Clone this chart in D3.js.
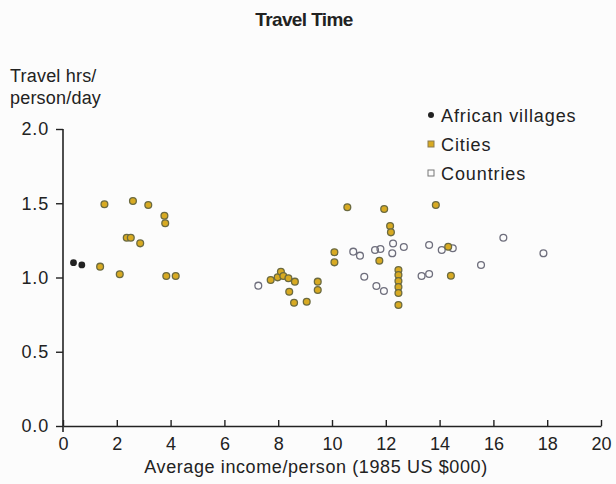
<!DOCTYPE html>
<html>
<head>
<meta charset="utf-8">
<script src="https://cdn.jsdelivr.net/npm/d3@7"></script>
<style>
  body { margin: 0; background: #fcfcfc; }
  text { font-family: "Liberation Sans", Arial, sans-serif; fill: #222; }
</style>
</head>
<body>
<script>
// data: income ($000) and travel hrs/person/day
var villageIncome = [0.39, 0.70]
var villageHours  = [1.10, 1.085]

var cityIncome = [1.38, 1.54, 2.11, 2.60, 2.37, 2.52, 2.87, 3.17, 3.77, 3.80, 3.84, 4.19,
                  7.72, 7.98, 8.10, 8.19, 8.38, 8.62, 8.41, 8.59, 9.06, 9.47, 9.47,
                  10.09, 10.09, 10.57, 11.94, 12.16, 12.19, 11.76,
                  12.47, 12.47, 12.47, 12.47, 12.47, 12.47, 14.32, 14.42, 13.86]
var cityHours  = [1.073, 1.493, 1.022, 1.515, 1.268, 1.268, 1.23, 1.488, 1.416, 1.365, 1.01, 1.01,
                  0.983, 1.001, 1.039, 1.01, 0.995, 0.972, 0.904, 0.83, 0.837, 0.972, 0.916,
                  1.17, 1.102, 1.473, 1.461, 1.347, 1.304, 1.113,
                  1.05, 1.017, 0.976, 0.936, 0.896, 0.815, 1.207, 1.012, 1.488]

var countryIncome = [7.26, 10.79, 11.04, 11.20, 11.60, 11.80, 11.65, 11.93, 12.27, 12.24, 12.67,
                     13.33, 13.61, 13.61, 14.08, 14.49, 15.54, 16.37, 17.86]
var countryHours  = [0.945, 1.174, 1.147, 1.005, 1.185, 1.192, 0.943, 0.909, 1.229, 1.163, 1.205,
                     1.01, 1.024, 1.219, 1.185, 1.197, 1.084, 1.268, 1.163]

var xTicks = [0, 2, 4, 6, 8, 10, 12, 14, 16, 18, 20]
var yTicks = [0, 0.5, 1.0, 1.5, 2.0]
var legendNames = ["African villages", "Cities", "Countries"]

// pairs for drawing
function zipUp(xs, ys){
  var out = []
  for (var i = 0; i < xs.length; i++) out.push({x: xs[i], y: ys[i]})
  return out
}
var villages = zipUp(villageIncome, villageHours)
var cities = zipUp(cityIncome, cityHours)
var countries = zipUp(countryIncome, countryHours)

var W = 616, H = 484
// plot box edges in px ("top" is taken by window.top, so prefixed)
var plotLeft = 63, plotRight = 601, plotTop = 129, plotBottom = 426
var dotR = 3.4

var svg = d3.select("body").append("svg")
  .attr("width", W).attr("height", H)

var xScale = d3.scaleLinear().domain([0, 20]).range([plotLeft, plotRight])
var yScale = d3.scaleLinear().domain([0, 2]).range([plotBottom, plotTop])

// title + axis labels
svg.append("text")
  .attr("x", 304).attr("y", 26)
  .attr("text-anchor", "middle")
  .style("font-size", "19px").style("font-weight", "bold").style("letter-spacing", "-0.6px")
  .text("Travel Time")

svg.append("text").attr("x", 10).attr("y", 82)
  .style("font-size", "18px").style("letter-spacing", "0.2px").text("Travel hrs/")
svg.append("text").attr("x", 10).attr("y", 104)
  .style("font-size", "18px").style("letter-spacing", "0.2px").text("person/day")

svg.append("text")
  .attr("x", 316).attr("y", 473)
  .attr("text-anchor", "middle")
  .style("font-size", "18px").style("letter-spacing", "0.6px")
  .text("Average income/person (1985 US $000)")

// y axis
var yAxis = svg.append("g")
  .attr("transform", "translate(" + plotLeft + ",0)")
  .call(d3.axisLeft(yScale).tickValues(yTicks).tickFormat(d3.format(".1f"))
        .tickSize(7).tickSizeOuter(0).tickPadding(7))
yAxis.select(".domain").remove()
yAxis.selectAll("text").style("font-size", "18px").style("letter-spacing", "0.8px").attr("fill", "#222")
yAxis.selectAll("line").attr("stroke", "#222").attr("stroke-width", 1.4)

svg.append("line")
  .attr("x1", plotLeft).attr("x2", plotLeft)
  .attr("y1", yScale(2)).attr("y2", plotBottom + 6)
  .attr("stroke", "#222").attr("stroke-width", 1.6)

// x axis, ticks pointing up
var xAxis = svg.append("g")
  .attr("transform", "translate(0," + plotBottom + ")")
  .call(d3.axisBottom(xScale).tickValues(xTicks).tickFormat(d3.format("d"))
        .tickSize(-6).tickSizeOuter(0).tickPadding(11))
xAxis.select(".domain").attr("stroke", "#222").attr("stroke-width", 1.6)
xAxis.selectAll("text").style("font-size", "18px").attr("fill", "#222")
xAxis.selectAll("line").attr("stroke", "#222").attr("stroke-width", 1.4)

// points
svg.append("g").selectAll("circle")
  .data(countries).enter().append("circle")
  .attr("cx", function(d){ return xScale(d.x) })
  .attr("cy", function(d){ return yScale(d.y) })
  .attr("r", dotR)
  .attr("fill", "none")
  .attr("stroke", "#6e6e7c").attr("stroke-width", 1.3)

svg.append("g").selectAll("circle")
  .data(cities).enter().append("circle")
  .attr("cx", function(d){ return xScale(d.x) })
  .attr("cy", function(d){ return yScale(d.y) })
  .attr("r", dotR)
  .attr("fill", "#d8aa22")
  .attr("stroke", "#6b6a40").attr("stroke-width", 1.3)

svg.append("g").selectAll("circle")
  .data(villages).enter().append("circle")
  .attr("cx", function(d){ return xScale(d.x) })
  .attr("cy", function(d){ return yScale(d.y) })
  .attr("r", dotR)
  .attr("fill", "#222")

// legend
var legend = svg.append("g").attr("transform", "translate(431,115)")
legendNames.forEach(function(name, i){
  var row = legend.append("g").attr("transform", "translate(0," + (i * 29) + ")")
  if (i == 0) {
    row.append("circle").attr("r", 3).attr("fill", "#222")
  } else if (i == 1) {
    row.append("rect").attr("x", -3).attr("y", -3).attr("width", 6).attr("height", 6)
      .attr("fill", "#d8aa22").attr("stroke", "#8a7a50").attr("stroke-width", 1)
  } else {
    row.append("rect").attr("x", -3).attr("y", -3).attr("width", 6).attr("height", 6)
      .attr("fill", "none").attr("stroke", "#777").attr("stroke-width", 1)
  }
  row.append("text").attr("x", 10).attr("y", 6.5)
    .style("font-size", "18px").style("letter-spacing", "0.9px").text(name)
})
</script>
</body>
</html>
